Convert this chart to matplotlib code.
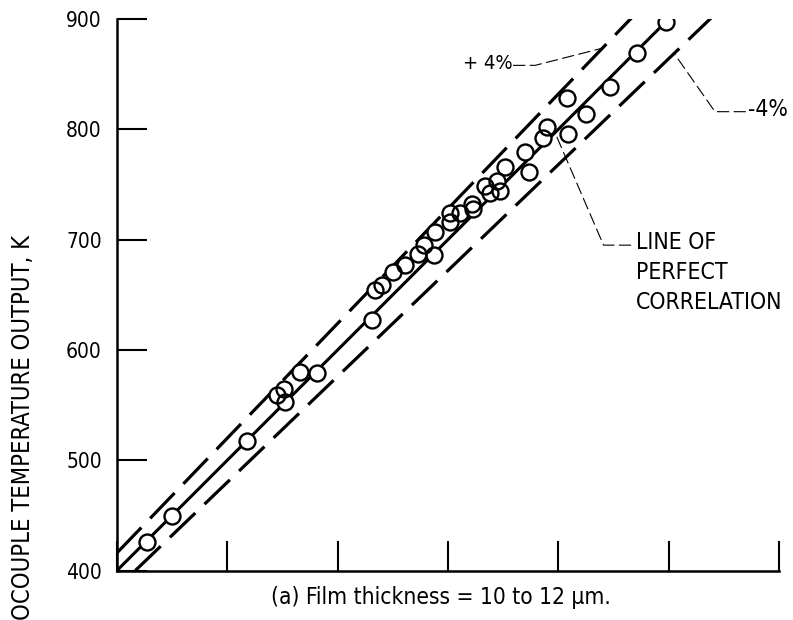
import numpy as np
import matplotlib.pyplot as plt

plt.rcParams['font.family'] = ['DejaVu Sans']
plt.rcParams['font.stretch'] = 'condensed'

# Reference temperature (x) vs thermocouple output (y), K
reference_k = [427, 450, 518, 545, 551, 552, 566, 581, 631, 634, 640, 650, 661,
               673, 678, 687, 688, 702, 702, 711, 723, 722, 734, 744, 747, 738,
               752, 770, 773, 786, 790, 809, 808, 825, 847, 871, 898]
output_k = [426, 449, 517, 559, 565, 553, 580, 579, 627, 654, 659, 671, 677,
            687, 695, 686, 707, 716, 724, 724, 728, 732, 749, 753, 744, 742,
            766, 779, 761, 792, 802, 796, 828, 814, 838, 869, 897]

band_pct = 4
y_ticks = [400, 500, 600, 700, 800, 900]
x_ticks = [400, 500, 600, 700, 800, 900, 1000]

fig = plt.figure(figsize=(7.93, 6.2), dpi=100)
ax = fig.add_axes([0.1475, 0.0798, 0.8348, 0.8895])

# perfect correlation and +/-4 % band
xl = np.array([400, 900])
ax.plot(xl, xl, color='black', lw=2.2, zorder=2)
xu = np.array([400, 870])
ax.plot(xu, xu * (1 + band_pct / 100), color='black', lw=2.3,
        dashes=(11, 4), dash_capstyle='butt', zorder=2)
xd = np.array([400 / (1 - band_pct / 100), 940])
ax.plot(xd, xd * (1 - band_pct / 100), color='black', lw=2.3,
        dashes=(11, 4), dash_capstyle='butt', zorder=2)

# open circles: white fill hides the lines, outlines drawn on top
ax.plot(reference_k, output_k, 'o', ms=11.5, mfc='white', mec='none', zorder=3)
ax.plot(reference_k, output_k, 'o', ms=11.5, mfc='none', mec='black',
        mew=1.7, zorder=4)

ax.set_xlim(400, 1000)
ax.set_ylim(400, 900)
ax.set_xticks(x_ticks)
ax.set_xticklabels([])
ax.set_yticks(y_ticks)
ax.tick_params(direction='in', length=21.5, width=1.5, pad=11, labelsize=15)
for s in ['top', 'right']:
    ax.spines[s].set_visible(False)
for s in ['left', 'bottom']:
    ax.spines[s].set_linewidth(1.8)

# leader lines and labels
lead = dict(color='black', lw=0.8, dashes=(11, 4))
ax.plot([759, 779, 840], [858, 858, 840 * 1.04], **lead)
ax.text(759, 860, '+ 4%', fontsize=14.5, ha='right', va='center')
ax.plot([970, 942, 905], [816, 816, 905 * 0.96], **lead)
ax.text(972, 818, '-4%', fontsize=16.5, ha='left', va='center')
ax.plot([866, 841, 797], [695, 695, 797], **lead)
ax.text(870, 670, 'LINE OF\nPERFECT\nCORRELATION', fontsize=16.5,
        ha='left', va='center', linespacing=1.4)

fig.text(0.556, 0.037, '(a) Film thickness = 10 to 12 \u00b5m.', fontsize=16.3,
         ha='center', va='center')
fig.text(0.0296, 0.0, 'OCOUPLE TEMPERATURE OUTPUT, K', fontsize=17,
         rotation=90, rotation_mode='anchor', ha='left', va='center')

fig.savefig('out.png', dpi=100)
